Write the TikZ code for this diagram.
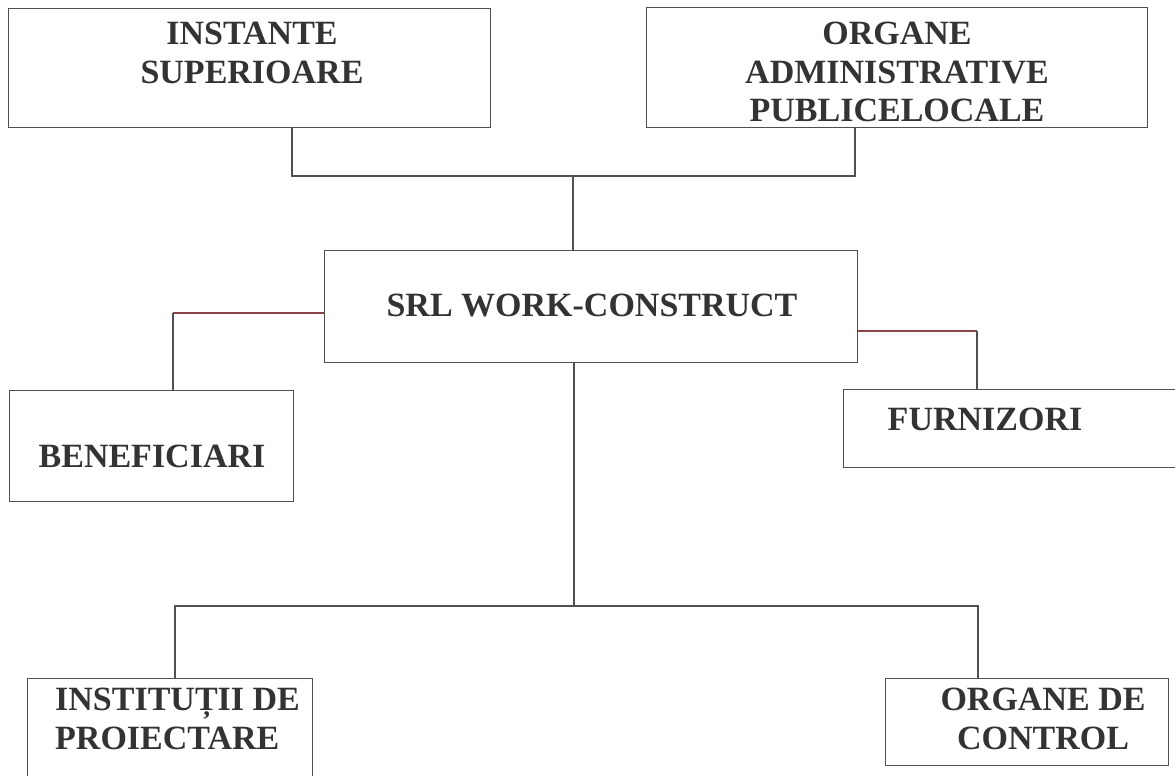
\documentclass[tikz,border=0pt]{standalone}
\usepackage{fontspec}
\setmainfont{Liberation Serif}
\definecolor{linec}{HTML}{505050}
\definecolor{redc}{HTML}{8A4444}
\definecolor{textc}{HTML}{333333}
\begin{document}
\begin{tikzpicture}[x=1pt,y=-1pt,
  box/.style={draw=linec, line width=1.2pt, inner sep=0pt, anchor=north west},
  lbl/.style={inner sep=0pt, text=textc, font=\fontsize{34}{38.5}\selectfont\bfseries},
  conn/.style={draw=linec, line width=1.1pt},
  rconn/.style={draw=redc, line width=1.1pt}]
\useasboundingbox (0,0) rectangle (1175,776);
\clip (0,0) rectangle (1175,776);
% boxes
\node[box, minimum width=482pt, minimum height=119pt] (inst) at (8,8) {};
\node[box, minimum width=501pt, minimum height=120pt] (org) at (646,7) {};
\node[box, minimum width=533pt, minimum height=112pt] (srl) at (324,250) {};
\node[box, minimum width=284pt, minimum height=111pt] (ben) at (9,390) {};
\node[box, minimum width=340pt, minimum height=78pt] (fur) at (843,389) {};
\node[box, minimum width=285pt, minimum height=120pt] (ins) at (27,678) {};
\node[box, minimum width=283pt, minimum height=87pt] (ctl) at (885,678) {};
% texts
\node[lbl, align=center, anchor=north] (inst-t) at (252,22) {INSTANTE\\SUPERIOARE};
\node[lbl, align=center, anchor=north] (org-t) at (897,22) {ORGANE\\ADMINISTRATIVE\\PUBLICELOCALE};
\node[lbl, anchor=base] (srl-t) at (592,316) {SRL WORK-CONSTRUCT};
\node[lbl, anchor=base] (ben-t) at (152,467) {BENEFICIARI};
\node[lbl, anchor=base] (fur-t) at (985,430) {FURNIZORI};
\node[lbl, align=left, anchor=north west] (ins-t) at (55,688) {INSTITUȚII DE\\PROIECTARE};
\node[lbl, align=center, anchor=north] (ctl-t) at (1043,688) {ORGANE DE\\CONTROL};
% connectors
\coordinate (a1) at (292,176);
\coordinate (a2) at (855,176);
\coordinate (a3) at (573,176);
\draw[conn] (inst.south -| a1) -- (a1) -- (a2) -- (org.south -| a2);
\draw[conn] (a3) -- (srl.north -| a3);
\coordinate (l1) at (173,313);
\draw[rconn] (srl.west |- l1) -- (l1);
\draw[conn] (l1) -- (ben.north -| l1);
\coordinate (r1) at (977,331);
\draw[rconn] (srl.east |- r1) -- (r1);
\draw[conn] (r1) -- (fur.north -| r1);
\coordinate (d1) at (574,606);
\draw[conn] (srl.south -| d1) -- (d1);
\coordinate (b1) at (175,606);
\coordinate (b2) at (978,606);
\draw[conn] (ins.north -| b1) -- (b1) -- (b2) -- (ctl.north -| b2);
\end{tikzpicture}
\end{document}
